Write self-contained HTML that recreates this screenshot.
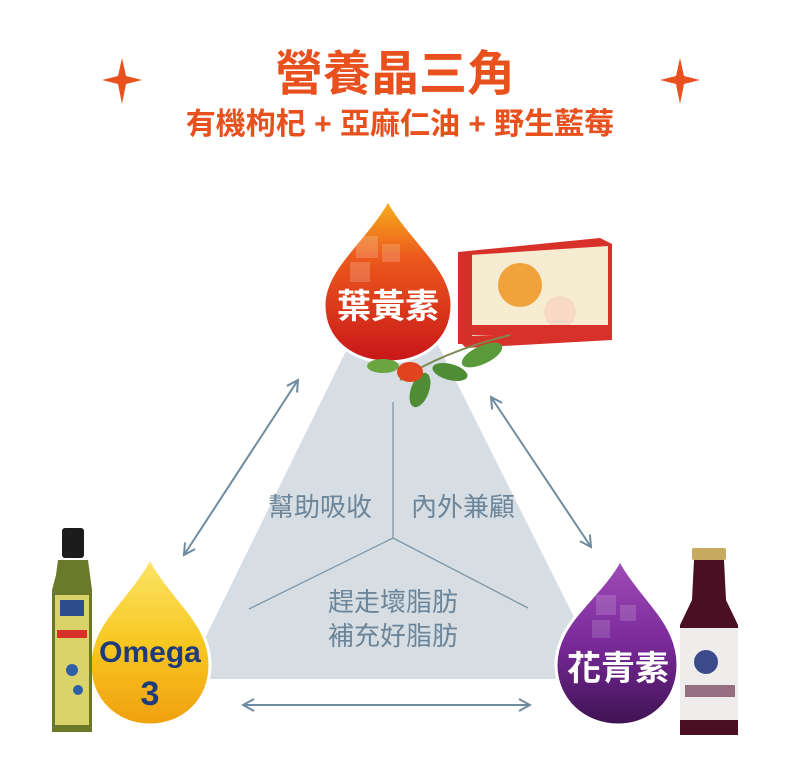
<!DOCTYPE html>
<html><head><meta charset="utf-8"><style>
body{margin:0;width:800px;height:771px;background:#fff;overflow:hidden}
svg{display:block}
text{font-family:"Liberation Sans","Noto Sans CJK TC",sans-serif}
</style></head><body>
<svg width="800" height="771" viewBox="0 0 800 771">
<defs>
<linearGradient id="gr" x1="0" y1="0" x2="0" y2="1"><stop offset="0" stop-color="#f7b21e"/><stop offset=".35" stop-color="#ec5a1c"/><stop offset="1" stop-color="#c8161a"/></linearGradient>
<linearGradient id="gy" x1="0" y1="0" x2="0" y2="1"><stop offset="0" stop-color="#fbe56a"/><stop offset=".5" stop-color="#f8c822"/><stop offset="1" stop-color="#f0a00e"/></linearGradient>
<linearGradient id="gp" x1="0" y1="0" x2="0" y2="1"><stop offset="0" stop-color="#a04cb8"/><stop offset=".5" stop-color="#7a2a9a"/><stop offset="1" stop-color="#3e1252"/></linearGradient>
<marker id="ah" markerWidth="14" markerHeight="14" refX="12" refY="7" orient="auto-start-reverse" markerUnits="userSpaceOnUse"><path d="M1,1 L12,7 L1,13" fill="none" stroke="#6f8ba0" stroke-width="2"/></marker>
</defs>
<text x="395" y="90" text-anchor="middle" font-size="48" font-weight="bold" fill="#e8501e">營養晶三角</text>
<text x="400" y="134" text-anchor="middle" font-size="30" font-weight="bold" fill="#e8501e">有機枸杞 + 亞麻仁油 + 野生藍莓</text>
<path d="M122,58 L126,76 L142,80 L126,84 L122,104 L118,84 L102,80 L118,76Z" fill="#e8501e"/>
<path d="M680,58 L684,76 L700,80 L684,84 L680,104 L676,84 L660,80 L676,76Z" fill="#e8501e"/>
<polygon points="393,255 185,679 605,679" fill="#d6dee4"/>
<g stroke="#7f97a8" stroke-width="1.3" fill="none">
<line x1="393" y1="402" x2="393" y2="538"/>
<line x1="393" y1="538" x2="249" y2="609"/>
<line x1="393" y1="538" x2="528" y2="608"/>
</g>
<g font-size="26" fill="#6d8599" text-anchor="middle">
<text x="320" y="516">幫助吸收</text>
<text x="463" y="516">內外兼顧</text>
<text x="393" y="611">趕走壞脂肪</text>
<text x="393" y="645">補充好脂肪</text>
</g>
<g stroke="#6f8ba0" stroke-width="2" fill="none" marker-start="url(#ah)" marker-end="url(#ah)">
<line x1="298" y1="380" x2="184" y2="555"/>
<line x1="491" y1="397" x2="591" y2="547"/>
<line x1="243" y1="705" x2="530" y2="705"/>
</g>
<path d="M388,200 C410,240 452,268 452,305 C452,340 424,362 388,362 C352,362 324,340 324,305 C324,268 366,240 388,200Z" fill="url(#gr)" stroke="#fff" stroke-width="3"/>
<g fill="#fff" opacity=".18"><rect x="356" y="236" width="22" height="22"/><rect x="382" y="244" width="18" height="18"/><rect x="350" y="262" width="20" height="20"/></g>
<text x="388" y="318" text-anchor="middle" font-size="34" font-weight="bold" fill="#fff">葉黃素</text>
<path d="M150,558 C172,600 210,622 210,665 C210,700 184,725 150,725 C116,725 90,700 90,665 C90,622 128,600 150,558Z" fill="url(#gy)" stroke="#fff" stroke-width="3"/>
<text x="150" y="662" text-anchor="middle" font-size="30" font-weight="bold" fill="#1f3b78">Omega</text>
<text x="150" y="705" text-anchor="middle" font-size="34" font-weight="bold" fill="#1f3b78">3</text>
<path d="M620,560 C642,600 678,622 678,665 C678,700 652,725 618,725 C584,725 556,700 556,665 C556,622 598,600 620,560Z" fill="url(#gp)" stroke="#fff" stroke-width="3"/>
<g fill="#fff" opacity=".15"><rect x="596" y="595" width="20" height="20"/><rect x="620" y="605" width="16" height="16"/><rect x="592" y="620" width="18" height="18"/></g>
<text x="618" y="680" text-anchor="middle" font-size="34" font-weight="bold" fill="#fff">花青素</text>
<path d="M458,252 L600,238 L612,244 L612,340 L466,348 L458,340Z" fill="#d8312a"/>
<path d="M470,255 L608,246 L608,330 L470,336Z" fill="#f6ecd2"/>
<rect x="458" y="252" width="14" height="92" fill="#d3302a"/>
<circle cx="520" cy="285" r="22" fill="#f2a23a"/>
<circle cx="560" cy="312" r="16" fill="#f7d9c6"/>
<rect x="472" y="325" width="136" height="10" fill="#d8312a"/>
<path d="M400,380 C430,360 470,345 510,335" stroke="#7a8a50" stroke-width="2" fill="none"/>
<ellipse cx="482" cy="355" rx="22" ry="9" fill="#5b9a3a" transform="rotate(-25 482 355)"/>
<ellipse cx="450" cy="372" rx="18" ry="8" fill="#4f8c33" transform="rotate(15 450 372)"/>
<ellipse cx="383" cy="366" rx="16" ry="7" fill="#6aa542"/>
<ellipse cx="420" cy="390" rx="9" ry="18" fill="#4f8c33" transform="rotate(20 420 390)"/>
<ellipse cx="410" cy="372" rx="13" ry="10" fill="#e2431f"/>
<rect x="62" y="528" width="22" height="30" rx="3" fill="#1c1c1c"/>
<path d="M58,560 L88,560 L90,575 L92,590 L92,732 L52,732 L52,590 L56,575Z" fill="#6b7a2a"/>
<rect x="55" y="595" width="34" height="130" fill="#d9d36a"/>
<rect x="60" y="600" width="24" height="16" fill="#2c4c8c"/>
<rect x="57" y="630" width="30" height="8" fill="#d8312a"/>
<circle cx="72" cy="670" r="6" fill="#2f5fa8"/><circle cx="78" cy="690" r="5" fill="#2f5fa8"/>
<rect x="692" y="548" width="34" height="12" rx="2" fill="#c8a960"/>
<path d="M694,560 L724,560 L726,600 L738,625 L738,735 L680,735 L680,625 L692,600Z" fill="#4a0f22"/>
<rect x="680" y="628" width="58" height="92" fill="#efecec"/>
<circle cx="706" cy="662" r="12" fill="#3a4a8a"/>
<rect x="685" y="685" width="50" height="12" fill="#5a1a3a" opacity=".6"/>
</svg>
</body></html>
